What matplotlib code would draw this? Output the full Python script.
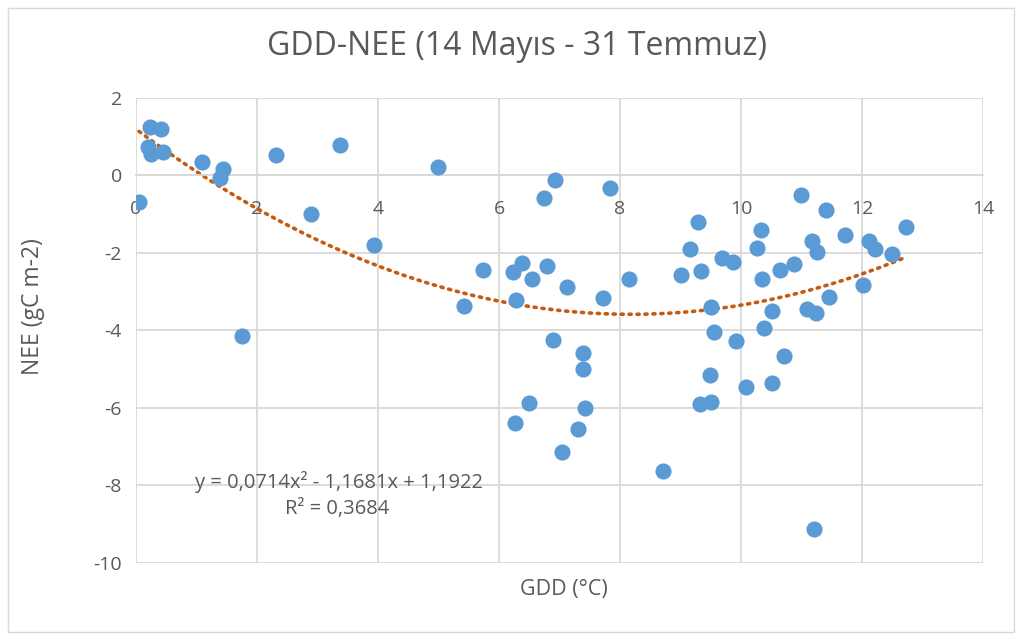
import numpy as np
import matplotlib.pyplot as plt
from matplotlib.patches import Rectangle

plt.rcParams['font.family'] = ['Open Sans', 'DejaVu Sans']
plt.rcParams['axes.unicode_minus'] = False

# GDD (x) and NEE (y)
gdd = [0.05, 0.23, 0.41, 0.20, 0.25, 0.45, 1.09, 1.44, 1.39, 2.31, 3.37, 2.89,
       3.93, 4.99, 1.75, 5.42, 5.74, 6.93, 6.74, 7.83, 9.29, 9.16, 9.01, 9.34,
       6.23, 6.38, 6.55, 6.79, 7.12, 8.15, 7.72, 6.28, 6.89, 7.39, 7.39, 6.50,
       7.42, 6.26, 7.31, 7.04, 8.71, 10.99, 11.40, 12.73, 10.33, 11.72, 11.17,
       12.12, 11.26, 12.22, 12.50, 10.26, 9.69, 9.86, 10.88, 10.64, 10.35,
       12.02, 11.45, 9.50, 10.51, 11.09, 11.24, 9.55, 10.38, 9.92, 10.71,
       9.49, 10.08, 10.51, 9.32, 9.50, 11.21]
nee = [-0.70, 1.24, 1.19, 0.72, 0.54, 0.59, 0.34, 0.15, -0.08, 0.52, 0.77, -1.00,
       -1.80, 0.21, -4.15, -3.38, -2.43, -0.13, -0.59, -0.34, -1.21, -1.91, -2.58, -2.48,
       -2.50, -2.27, -2.68, -2.35, -2.89, -2.68, -3.17, -3.22, -4.26, -4.59, -5.00, -5.88,
       -6.01, -6.40, -6.55, -7.15, -7.64, -0.52, -0.90, -1.34, -1.40, -1.55, -1.70,
       -1.70, -1.99, -1.91, -2.04, -1.88, -2.14, -2.24, -2.29, -2.43, -2.68,
       -2.84, -3.15, -3.40, -3.51, -3.46, -3.54, -4.03, -3.95, -4.28, -4.67,
       -5.14, -5.45, -5.37, -5.91, -5.86, -9.13]

# trendline coefficients shown on the chart (a2, a1, a0)
coef = [0.0714, -1.1681, 1.1922]
r2 = 0.3684

fig = plt.figure(figsize=(10.22, 6.39), dpi=100)
ax = fig.add_axes([0.133, 0.119, 0.829, 0.728])

ax.scatter(gdd, nee, s=135, color='#5b9bd5', zorder=3, linewidths=0)

xt = np.linspace(min(gdd), max(gdd), 200)
ax.plot(xt, np.polyval(coef, xt), color='#c55a11', linestyle=(0, (0.6, 1.6)),
        linewidth=2.6, dash_capstyle='round', zorder=2)

ax.set_xlim(0, 14)
ax.set_ylim(-10, 2)
ax.set_xticks(range(0, 15, 2))
ax.set_yticks(range(-10, 3, 2))
ax.grid(True, color='#d9d9d9', linewidth=1.3)
ax.set_axisbelow(True)
for s in ['top', 'right', 'left']:
    ax.spines[s].set_visible(False)
ax.spines['bottom'].set_position(('data', 0))
ax.spines['bottom'].set_color('#d9d9d9')
ax.spines['bottom'].set_linewidth(1.3)
ax.tick_params(length=0, labelsize=14, colors='#595959')
ax.tick_params(axis='y', pad=10)
ax.tick_params(axis='x', pad=18)

fig.text(0.506, 0.928, 'GDD-NEE (14 Mayıs - 31 Temmuz)', fontsize=23, color='#595959',
         ha='center', va='center')
fig.text(0.032, 0.52, 'NEE (gC m-2)', rotation=90, fontsize=16.5, color='#595959',
         ha='center', va='center')
fig.text(0.552, 0.077, 'GDD (°C)', fontsize=15.5, color='#595959', ha='center', va='center')

eq = f'y = {coef[0]:.4f}x² - {-coef[1]:.4f}x + {coef[2]:.4f}'.replace('.', ',')
ax.text(3.35, -7.9, eq, fontsize=14.5, color='#595959', ha='center', va='center')
ax.text(3.33, -8.6, f'R² = {r2:.4f}'.replace('.', ','), fontsize=14.5, color='#595959',
        ha='center', va='center')

fig.patches.append(Rectangle((0.008, 0.011), 0.984, 0.977, transform=fig.transFigure,
                             fill=False, edgecolor='#d9d9d9', linewidth=1))

fig.savefig('out.png', dpi=100)
